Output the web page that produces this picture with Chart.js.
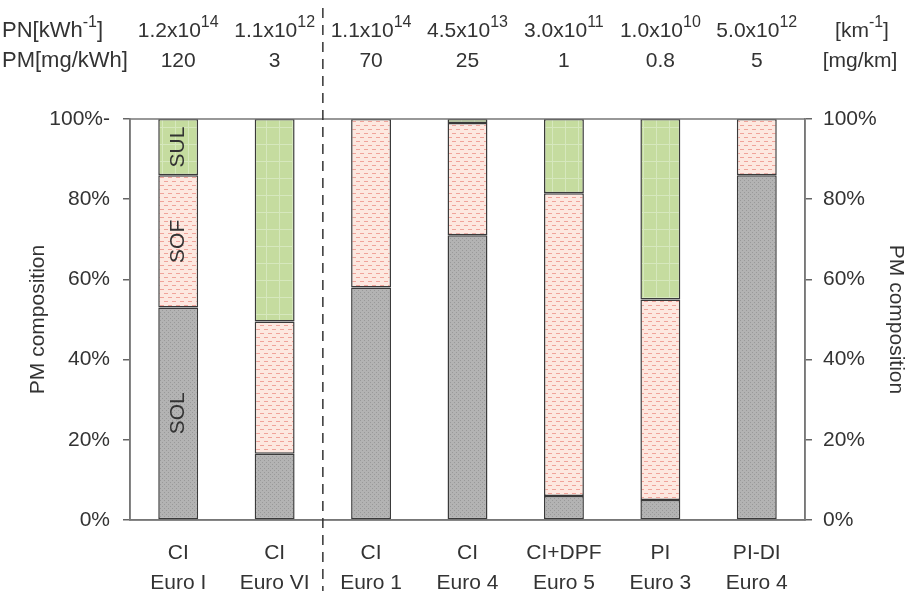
<!DOCTYPE html>
<html>
<head>
<meta charset="utf-8">
<script src="https://cdn.jsdelivr.net/npm/chart.js@4.4.1/dist/chart.umd.min.js"></script>
<style>
  html, body { margin: 0; padding: 0; background: #fff; }
  #wrap { width: 912px; height: 591px; }
</style>
</head>
<body>
<div id="wrap"><canvas id="pmChart" width="912" height="591"></canvas></div>
<script>
// Vehicle / engine categories (two-line tick labels)
const categories = [
    ['CI', 'Euro I'], ['CI', 'Euro VI'], ['CI', 'Euro 1'], ['CI', 'Euro 4'],
    ['CI+DPF', 'Euro 5'], ['PI', 'Euro 3'], ['PI-DI', 'Euro 4']
];
// PM composition shares in %
const solValues = [53, 16.5, 58, 71, 6, 5, 86];
const sofValues = [33, 33, 42, 28, 75.5, 50, 14];
const sulValues = [14, 50.5, null, 1, 18.5, 45, null];
// header rows: particle number (mantissa x 10^exp) and PM mass
const pnMantissa = ['1.2', '1.1', '1.1', '4.5', '3.0', '1.0', '5.0'];
const pnExponent = ['14', '12', '14', '13', '11', '10', '12'];
const pmMass = ['120', '3', '70', '25', '1', '0.8', '5'];
const yTicks = [0, 20, 40, 60, 80, 100];

const FONT = '"Liberation Sans", Arial, sans-serif';
const TEXT = '#333';

function makePattern(size, bg, draw) {
    const c = document.createElement('canvas');
    c.width = size[0];
    c.height = size[1];
    const g = c.getContext('2d');
    g.fillStyle = bg;
    g.fillRect(0, 0, size[0], size[1]);
    draw(g);
    return g.createPattern(c, 'repeat');
}

const solPattern = makePattern([4, 4], '#b3b3b3', function(g) {
    g.fillStyle = '#999';
    g.fillRect(0, 0, 1, 1);
    g.fillRect(2, 2, 1, 1);
});
const sofPattern = makePattern([8, 8], '#fde8e0', function(g) {
    g.fillStyle = '#f0a39a';
    g.fillRect(0, 1, 4, 1);
    g.fillRect(4, 5, 4, 1);
});
const sulPattern = makePattern([13, 17], '#c5dc9f', function(g) {
    g.fillStyle = '#d6e8bd';
    g.fillRect(6, 0, 1, 17);
    g.fillRect(0, 8, 13, 1);
});

// text with a superscript part, centred on cx (or starting at cx)
function drawSup(ctx, parts, cx, y, align, size) {
    size = size || 21;
    let total = 0;
    parts.forEach(function(p) {
        ctx.font = (p.sup ? '16px ' : size + 'px ') + FONT;
        p.w = ctx.measureText(p.t).width;
        total += p.w;
    });
    let x = align === 'left' ? cx : cx - total / 2;
    ctx.textAlign = 'left';
    parts.forEach(function(p) {
        ctx.font = (p.sup ? '16px ' : size + 'px ') + FONT;
        ctx.fillText(p.t, x, p.sup ? y - 8 : y);
        x += p.w;
    });
}

const overlay = {
    id: 'overlay',
    afterDraw(chart) {
        const ctx = chart.ctx;
        const area = chart.chartArea;
        const xs = chart.scales.x;
        ctx.save();

        // plot frame
        ctx.strokeStyle = '#777';
        ctx.lineWidth = 1.5;
        ctx.strokeRect(area.left, area.top, area.right - area.left, area.bottom - area.top);

        // dashed separator between heavy-duty and light-duty groups
        const sepX = (xs.getPixelForValue(1) + xs.getPixelForValue(2)) / 2;
        ctx.strokeStyle = '#333';
        ctx.setLineDash([10, 7]);
        ctx.beginPath();
        ctx.moveTo(sepX, 8);
        ctx.lineTo(sepX, chart.height);
        ctx.stroke();
        ctx.setLineDash([]);

        // header rows
        ctx.fillStyle = TEXT;
        ctx.textBaseline = 'middle';
        const row1 = 31, row2 = 61;
        drawSup(ctx, [{t: 'PN[kWh'}, {t: '-1', sup: true}, {t: ']'}], 2, row1, 'left', 22);
        ctx.font = '22px ' + FONT;
        ctx.textAlign = 'left';
        ctx.fillText('PM[mg/kWh]', 2, row2);
        categories.forEach(function(c, i) {
            const cx = xs.getPixelForValue(i);
            drawSup(ctx, [{t: pnMantissa[i] + 'x10'}, {t: pnExponent[i], sup: true}], cx, row1);
            ctx.font = '21px ' + FONT;
            ctx.textAlign = 'center';
            ctx.fillText(pmMass[i], cx, row2);
        });
        drawSup(ctx, [{t: '[km'}, {t: '-1', sup: true}, {t: ']'}], 862, row1);
        ctx.font = '21px ' + FONT;
        ctx.textAlign = 'center';
        ctx.fillText('[mg/km]', 860, row2);

        // fraction names inside the first bar
        ['SOL', 'SOF', 'SUL'].forEach(function(name, di) {
            const bar = chart.getDatasetMeta(di).data[0];
            ctx.save();
            ctx.translate(bar.x, (bar.y + bar.base) / 2);
            ctx.rotate(-Math.PI / 2);
            ctx.font = '21px ' + FONT;
            ctx.textAlign = 'center';
            ctx.fillText(name, 0, 0);
            ctx.restore();
        });
        ctx.restore();
    }
};

function yAxis(position, width, label100, titlePad, tickPad) {
    return {
        position: position,
        stacked: true,
        min: 0,
        max: 100,
        afterBuildTicks(s) { s.ticks = yTicks.map(function(v) { return {value: v}; }); },
        ticks: {
            color: TEXT,
            font: {family: FONT, size: 21},
            padding: tickPad,
            callback: function(v) { return v === 100 ? label100 : v + '%'; }
        },
        grid: {drawOnChartArea: false, tickLength: 7, color: '#666', lineWidth: 1.5},
        border: {color: '#777', width: 1.5},
        title: {
            display: true,
            text: 'PM composition',
            color: TEXT,
            font: {family: FONT, size: 21},
            padding: {top: titlePad, bottom: 0}
        },
        afterFit(s) { s.width = width; }
    };
}

new Chart(document.getElementById('pmChart'), {
    type: 'bar',
    data: {
        labels: categories,
        datasets: [
            {label: 'SOL', data: solValues, backgroundColor: solPattern},
            {label: 'SOF', data: sofValues, backgroundColor: sofPattern},
            {label: 'SUL', data: sulValues, backgroundColor: sulPattern}
        ].map(function(d) {
            return Object.assign(d, {
                borderColor: '#3a3a3a',
                borderWidth: 1.5,
                borderSkipped: false,
                categoryPercentage: 0.6,
                barPercentage: 0.69,
                yAxisID: 'y'
            });
        })
    },
    options: {
        responsive: false,
        animation: false,
        layout: {padding: {top: 119, left: 0, right: 0, bottom: 0}},
        plugins: {legend: {display: false}, tooltip: {enabled: false}},
        scales: {
            x: {
                stacked: true,
                grid: {display: false},
                border: {color: '#777', width: 1.5},
                ticks: {
                    color: TEXT,
                    font: {family: FONT, size: 21, lineHeight: 1.42},
                    padding: 10,
                    maxRotation: 0,
                    autoSkip: false
                },
                afterFit(s) { s.height = 71; }
            },
            y: yAxis('left', 130, '100%-', 26, 13),
            y2: yAxis('right', 107, '100%', 4, 11)
        }
    },
    plugins: [overlay]
});
</script>
</body>
</html>
